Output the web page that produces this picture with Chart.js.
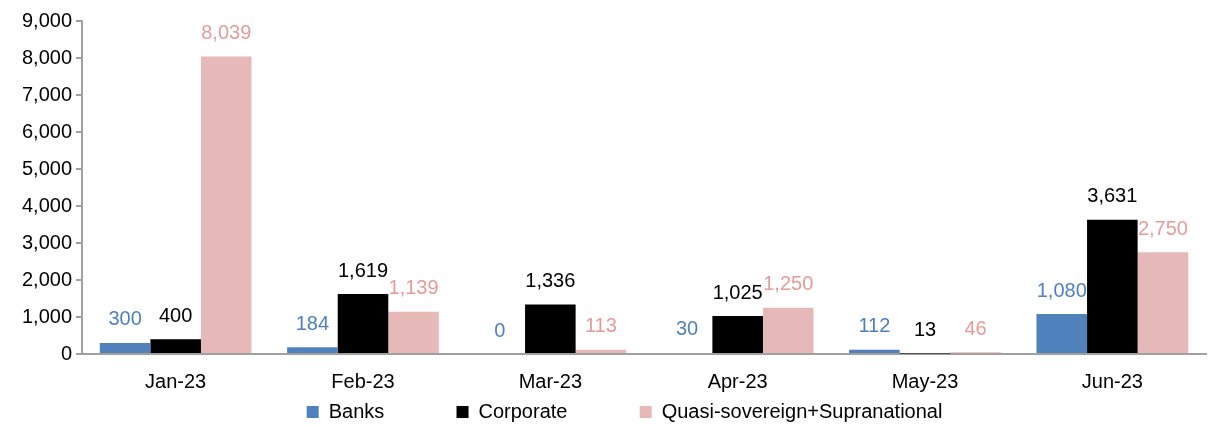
<!DOCTYPE html>
<html>
<head>
<meta charset="utf-8">
<script src="https://cdn.jsdelivr.net/npm/chart.js@4.4.0/dist/chart.umd.min.js"></script>
<style>
  html, body { margin: 0; padding: 0; background: #fff; }
  #wrap { width: 1208px; height: 426px; }
</style>
</head>
<body>
<div id="wrap"><canvas id="chart" width="1208" height="426"></canvas></div>
<script>
const months = ['Jan-23', 'Feb-23', 'Mar-23', 'Apr-23', 'May-23', 'Jun-23'];
const banks = [300, 184, 0, 30, 112, 1080];
const corporate = [400, 1619, 1336, 1025, 13, 3631];
const quasi = [8039, 1139, 113, 1250, 46, 2750];
const yTicks = [0, 1000, 2000, 3000, 4000, 5000, 6000, 7000, 8000, 9000];

const seriesColors = ['#4f81bd', '#000000', '#e6b9b8'];
const labelColors = ['#4f81bd', '#000000', '#e39c9a'];
const fontFamily = '"Liberation Sans", Arial, sans-serif';

const valueLabels = {
  id: 'valueLabels',
  afterDatasetsDraw(chart) {
    const ctx = chart.ctx;
    ctx.save();
    ctx.font = '20px ' + fontFamily;
    ctx.textAlign = 'center';
    ctx.textBaseline = 'middle';
    chart.data.datasets.forEach((ds, i) => {
      chart.getDatasetMeta(i).data.forEach((bar, j) => {
        ctx.fillStyle = labelColors[i];
        ctx.fillText(ds.data[j].toLocaleString('en-US'), bar.x, bar.y - 23);
      });
    });
    ctx.restore();
  }
};

new Chart(document.getElementById('chart'), {
  type: 'bar',
  data: {
    labels: months,
    datasets: [
      { label: 'Banks', data: banks, backgroundColor: seriesColors[0] },
      { label: 'Corporate', data: corporate, backgroundColor: seriesColors[1] },
      { label: 'Quasi-sovereign+Supranational', data: quasi, backgroundColor: seriesColors[2] }
    ]
  },
  options: {
    responsive: false,
    animation: false,
    layout: { padding: { top: 21, right: 2, left: 0, bottom: -6 } },
    datasets: { bar: { categoryPercentage: 0.81, barPercentage: 1.0 } },
    scales: {
      x: {
        grid: { display: false },
        border: { color: '#a0a0a0', width: 2 },
        ticks: { color: '#000', font: { size: 20, family: fontFamily }, padding: 8 }
      },
      y: {
        min: 0,
        max: 9000,
        afterFit(scale) { scale.width = 82; },
        afterBuildTicks(scale) { scale.ticks = yTicks.map(v => ({ value: v })); },
        grid: { drawOnChartArea: false, drawTicks: true, tickLength: 6, color: '#a0a0a0', lineWidth: 2 },
        border: { color: '#a0a0a0', width: 2 },
        ticks: {
          color: '#000',
          padding: 4,
          font: { size: 20, family: fontFamily },
          callback: v => v.toLocaleString('en-US')
        }
      }
    },
    plugins: {
      legend: {
        position: 'bottom',
        fullSize: false,
        labels: {
          color: '#000',
          boxWidth: 12,
          boxHeight: 12,
          padding: 0,
          font: { size: 20, family: fontFamily },
          generateLabels(chart) {
            const items = Chart.defaults.plugins.legend.labels.generateLabels(chart);
            const pads = ['             ', '             ', '       '];
            items.forEach((it, i) => { it.text = it.text + pads[i]; });
            return items;
          }
        }
      },
      tooltip: { enabled: false }
    }
  },
  plugins: [valueLabels]
});
</script>
</body>
</html>
